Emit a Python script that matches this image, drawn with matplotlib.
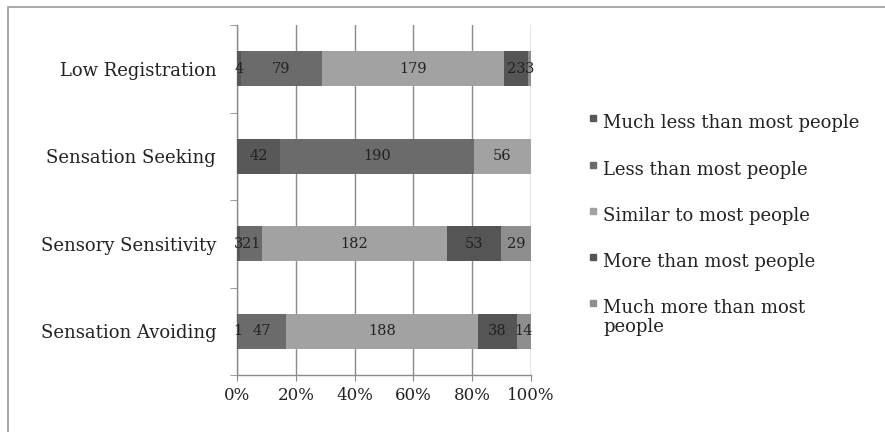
import matplotlib

matplotlib.use("Agg")
import matplotlib.pyplot as plt  # noqa: E402
import numpy as np  # noqa: E402
from matplotlib.patches import Rectangle  # noqa: E402

# Responses per sensory quadrant, counts per answer category
quadrants = ["Low Registration", "Sensation Seeking", "Sensory Sensitivity", "Sensation Avoiding"]
responses = [
    "Much less than most people",
    "Less than most people",
    "Similar to most people",
    "More than most people",
    "Much more than most\npeople",
]
much_less = [4, 42, 3, 1]
less = [79, 190, 21, 47]
similar = [179, 56, 182, 188]
more = [23, 0, 53, 38]
much_more = [3, 0, 29, 14]
x_ticks = [0, 20, 40, 60, 80, 100]
x_tick_labels = ["0%", "20%", "40%", "60%", "80%", "100%"]

COLORS = ["#585858", "#6b6b6b", "#a2a2a2", "#555555", "#8e8e8e"]
FONT = "DejaVu Serif"
GRID = "#8a8a8a"
INK = "#222222"

counts = np.array([much_less, less, similar, more, much_more], dtype=float)
totals = counts.sum(axis=0)
shares = counts / totals * 100

fig = plt.figure(figsize=(8.85, 4.32), dpi=100)
fig.patch.set_facecolor("white")

# chart frame (only top and left edges fall inside the image)
fig.patches.append(
    Rectangle((8 / 885, -0.05), 1.0, 1 - 7 / 432 + 0.05, transform=fig.transFigure,
              fill=False, edgecolor="#9a9a9a", linewidth=1.2)
)

ax = fig.add_axes([237 / 885, 1 - 375 / 432, (531 - 237) / 885, 350 / 432])
y = np.arange(len(quadrants))

left = np.zeros(len(quadrants))
for i, row in enumerate(shares):
    ax.barh(y, row, left=left, height=0.4, color=COLORS[i], zorder=3)
    for j, (w, n) in enumerate(zip(row, counts[i])):
        if n > 0:
            ax.text(left[j] + w / 2, y[j], f"{int(n)}", ha="center", va="center",
                    fontsize=10.5, family=FONT, color=INK, zorder=4)
    left += row

ax.set_xlim(0, 100)
ax.set_ylim(len(quadrants) - 0.5, -0.5)

ax.set_xticks(x_ticks)
ax.set_xticklabels(x_tick_labels, fontsize=12, family=FONT, color=INK)
ax.tick_params(axis="x", length=4, color=GRID, pad=5)

ax.set_yticks(y)
ax.set_yticklabels(quadrants, fontsize=13, family=FONT, color=INK)
ax.tick_params(axis="y", which="major", length=0, pad=15)
ax.set_yticks(np.arange(len(quadrants) + 1) - 0.5, minor=True)
ax.tick_params(axis="y", which="minor", length=5, color=GRID)

ax.xaxis.grid(True, color=GRID, linewidth=1.0)
ax.set_axisbelow(True)
for side in ["top", "right"]:
    ax.spines[side].set_visible(False)
for side in ["left", "bottom"]:
    ax.spines[side].set_color(GRID)
    ax.spines[side].set_linewidth(1.0)

# legend: small square key raised to the cap line, label to its right
legend_y = [122, 169, 215, 261, 307]
for color, label, ly in zip(COLORS, responses, legend_y):
    fig.patches.append(
        Rectangle((590 / 885, 1 - (ly - 1) / 432), 6 / 885, 6 / 432,
                  transform=fig.transFigure, color=color)
    )
    fig.text(603 / 885, 1 - (ly - 8) / 432, label, ha="left", va="top",
             fontsize=13, family=FONT, color=INK, linespacing=1.05)

fig.savefig("out.png", dpi=100, facecolor="white")
plt.close(fig)
